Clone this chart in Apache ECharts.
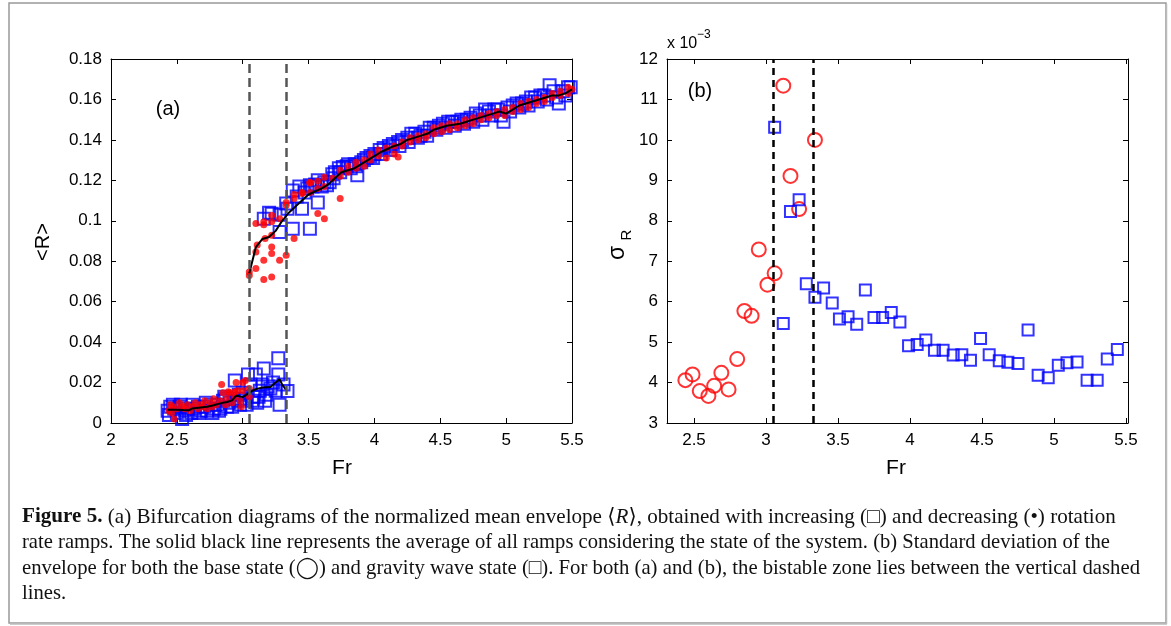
<!DOCTYPE html>
<html><head><meta charset="utf-8">
<script src="https://cdn.jsdelivr.net/npm/echarts@6/dist/echarts.min.js"></script>
<style>html,body{margin:0;padding:0;background:#fff}#c{width:1171px;height:626px}</style>
</head><body><div id="c"></div>
<script>
// ---------- Panel (a): <R> vs Fr ----------
const xTicksA = [2, 2.5, 3, 3.5, 4, 4.5, 5, 5.5];
const bistable = [3.05, 3.33];

// increasing ramps (squares), base-state branch
const blueLow = [[2.43,0.006],[2.44,0.004],[2.45,0.008],[2.47,0.009],[2.48,0.007],[2.50,0.005],[2.52,0.008],[2.53,0.009],[2.54,0.002],[2.56,0.006],[2.57,0.004],[2.58,0.007],[2.61,0.005],[2.62,0.009],[2.63,0.007],[2.66,0.008],[2.67,0.005],[2.68,0.006],[2.71,0.008],[2.72,0.010],[2.73,0.006],[2.76,0.009],[2.77,0.005],[2.78,0.007],[2.81,0.009],[2.82,0.006],[2.83,0.007],[2.85,0.011],[2.86,0.013],[2.87,0.012],[2.88,0.008],[2.90,0.010],[2.92,0.008],[2.93,0.012],[2.94,0.021],[2.96,0.011],[2.97,0.014],[2.98,0.009],[3.00,0.015],[3.02,0.012],[3.03,0.009],[3.04,0.024],[3.06,0.019],[3.07,0.011],[3.08,0.013],[3.10,0.024],[3.11,0.010],[3.12,0.013],[3.13,0.016],[3.15,0.019],[3.16,0.027],[3.17,0.011],[3.18,0.014],[3.19,0.018],[3.21,0.017],[3.23,0.020],[3.25,0.016],[3.27,0.032],[3.27,0.024],[3.28,0.009],[3.31,0.019],[3.34,0.0158]];

// decreasing ramps (dots), base-state branch
const redLow = [[3.05,0.017],[3.05,0.013],[3.02,0.021],[3.00,0.020],[3.00,0.016],[2.99,0.008],[2.98,0.011],[2.96,0.016],[2.95,0.020],[2.94,0.013],[2.94,0.0155],[2.92,0.010],[2.90,0.015],[2.89,0.0155],[2.88,0.012],[2.87,0.009],[2.85,0.015],[2.84,0.019],[2.83,0.011],[2.80,0.009],[2.78,0.012],[2.77,0.008],[2.75,0.010],[2.73,0.007],[2.71,0.011],[2.70,0.008],[2.68,0.009],[2.66,0.007],[2.64,0.010],[2.62,0.008],[2.60,0.006],[2.58,0.009],[2.56,0.007],[2.54,0.008],[2.52,0.010],[2.50,0.007],[2.48,0.002],[2.47,0.008],[2.46,0.005],[2.45,0.009],[2.44,0.006]];

// increasing ramps (squares), gravity-wave branch
const blueHigh = [[3.16,0.101],[3.20,0.104],[3.22,0.1035],[3.28,0.103],[3.28,0.0945],[3.33,0.1085],[3.34,0.106],[3.38,0.115],[3.38,0.096],[3.41,0.112],[3.43,0.117],[3.45,0.106],[3.47,0.114],[3.49,0.116],[3.51,0.1176],[3.51,0.096],[3.53,0.117],[3.55,0.118],[3.57,0.109],[3.57,0.120],[3.60,0.117],[3.62,0.119],[3.64,0.1176],[3.66,0.119],[3.68,0.123],[3.69,0.121],[3.70,0.124],[3.73,0.126],[3.74,0.124],[3.76,0.1266],[3.79,0.127],[3.80,0.128],[3.82,0.126],[3.85,0.128],[3.86,0.127],[3.87,0.1225],[3.90,0.129],[3.92,0.130],[3.94,0.131],[3.97,0.132],[3.99,0.131],[4.00,0.133],[4.04,0.135],[4.05,0.133],[4.07,0.136],[4.11,0.137],[4.12,0.135],[4.14,0.138],[4.18,0.139],[4.19,0.137],[4.21,0.140],[4.25,0.141],[4.26,0.139],[4.28,0.143],[4.31,0.143],[4.33,0.141],[4.35,0.142],[4.38,0.144],[4.40,0.142],[4.42,0.146],[4.45,0.146],[4.47,0.145],[4.49,0.147],[4.52,0.148],[4.54,0.146],[4.56,0.149],[4.59,0.149],[4.61,0.147],[4.63,0.149],[4.66,0.150],[4.68,0.148],[4.70,0.150],[4.73,0.151],[4.75,0.149],[4.77,0.153],[4.80,0.152],[4.82,0.150],[4.84,0.155],[4.87,0.154],[4.89,0.152],[4.91,0.155],[4.94,0.155],[4.96,0.152],[4.98,0.149],[5.01,0.156],[5.03,0.154],[5.05,0.157],[5.08,0.158],[5.10,0.156],[5.12,0.158],[5.15,0.159],[5.17,0.157],[5.19,0.161],[5.22,0.161],[5.24,0.159],[5.26,0.162],[5.29,0.162],[5.31,0.160],[5.33,0.167],[5.36,0.164],[5.38,0.161],[5.40,0.158],[5.43,0.164],[5.45,0.162],[5.47,0.166],[5.49,0.166]];

// decreasing ramps (dots), gravity-wave branch
const redHigh = [[3.05,0.073],[3.05,0.0747],[3.10,0.0764],[3.10,0.0845],[3.10,0.0986],[3.11,0.088],[3.16,0.071],[3.16,0.0805],[3.16,0.0995],[3.16,0.098],[3.17,0.0912],[3.22,0.0722],[3.22,0.087],[3.22,0.0838],[3.22,0.0929],[3.22,0.0995],[3.22,0.1027],[3.28,0.0805],[3.28,0.101],[3.33,0.083],[3.33,0.1077],[3.33,0.109],[3.39,0.0912],[3.39,0.111],[3.39,0.113],[3.45,0.1135],[3.45,0.114],[3.51,0.114],[3.51,0.1187],[3.51,0.119],[3.57,0.1036],[3.57,0.116],[3.57,0.1195],[3.62,0.101],[3.62,0.117],[3.62,0.1215],[3.68,0.121],[3.74,0.111],[3.74,0.122],[3.74,0.125],[3.80,0.124],[3.80,0.127],[3.86,0.126],[3.86,0.129],[3.92,0.127],[3.92,0.130],[3.97,0.130],[3.97,0.133],[4.03,0.132],[4.03,0.135],[4.09,0.131],[4.09,0.136],[4.15,0.133],[4.15,0.137],[4.18,0.1315],[4.21,0.137],[4.21,0.139],[4.27,0.139],[4.27,0.141],[4.33,0.140],[4.33,0.142],[4.39,0.141],[4.39,0.143],[4.45,0.143],[4.45,0.146],[4.51,0.144],[4.51,0.147],[4.57,0.145],[4.57,0.148],[4.63,0.146],[4.63,0.148],[4.69,0.147],[4.69,0.150],[4.75,0.148],[4.75,0.151],[4.81,0.150],[4.81,0.152],[4.87,0.151],[4.87,0.153],[4.93,0.152],[4.93,0.154],[4.99,0.152],[4.99,0.155],[5.05,0.154],[5.05,0.156],[5.11,0.155],[5.11,0.158],[5.17,0.156],[5.17,0.159],[5.23,0.158],[5.23,0.160],[5.29,0.159],[5.29,0.161],[5.35,0.161],[5.35,0.163],[5.41,0.162],[5.41,0.164],[5.47,0.163],[5.47,0.166],[5.50,0.165]];

// average of all ramps (solid black line)
const avgLow = [[2.43,0.0066],[2.50,0.0066],[2.55,0.0064],[2.59,0.0063],[2.62,0.0072],[2.68,0.0077],[2.73,0.0080],[2.78,0.0088],[2.83,0.0097],[2.88,0.0104],[2.92,0.0112],[2.95,0.0135],[2.97,0.0133],[3.00,0.0128],[3.04,0.0145],[3.08,0.0162],[3.11,0.0170],[3.15,0.0175],[3.21,0.0178],[3.25,0.0200],[3.28,0.0216],[3.30,0.0190],[3.33,0.0163]];
const avgHigh = [[3.05,0.074],[3.10,0.087],[3.15,0.091],[3.20,0.092],[3.25,0.095],[3.30,0.100],[3.35,0.104],[3.40,0.107],[3.45,0.110],[3.50,0.113],[3.55,0.1145],[3.60,0.116],[3.65,0.118],[3.70,0.121],[3.75,0.124],[3.80,0.125],[3.85,0.126],[3.90,0.128],[3.95,0.130],[4.00,0.132],[4.05,0.134],[4.10,0.1355],[4.15,0.137],[4.20,0.138],[4.25,0.140],[4.30,0.141],[4.35,0.142],[4.40,0.143],[4.45,0.145],[4.50,0.146],[4.55,0.147],[4.60,0.1475],[4.65,0.148],[4.70,0.149],[4.75,0.150],[4.80,0.151],[4.85,0.152],[4.90,0.153],[4.95,0.154],[5.00,0.153],[5.05,0.155],[5.10,0.157],[5.15,0.158],[5.20,0.159],[5.25,0.160],[5.30,0.161],[5.35,0.162],[5.40,0.162],[5.45,0.163],[5.50,0.165]];

// ---------- Panel (b): sigma_R (x 10^-3) vs Fr ----------
const xTicksB = [2.5, 3, 3.5, 4, 4.5, 5, 5.5];
const sigmaBase = [[2.44,4.06],[2.49,4.20],[2.54,3.79],[2.60,3.67],[2.64,3.92],[2.69,4.24],[2.74,3.83],[2.80,4.58],[2.85,5.77],[2.90,5.65],[2.95,7.29],[3.01,6.42],[3.06,6.70],[3.12,11.34],[3.17,9.11],[3.23,8.29],[3.34,10.0]];
const sigmaWave = [[3.06,10.31],[3.12,5.46],[3.17,8.23],[3.23,8.52],[3.28,6.44],[3.34,6.11],[3.40,6.34],[3.46,5.97],[3.51,5.57],[3.57,5.63],[3.63,5.44],[3.69,6.29],[3.75,5.61],[3.81,5.61],[3.87,5.73],[3.93,5.50],[3.99,4.91],[4.05,4.94],[4.11,5.05],[4.17,4.80],[4.23,4.80],[4.30,4.68],[4.36,4.69],[4.42,4.55],[4.49,5.09],[4.55,4.69],[4.62,4.54],[4.68,4.50],[4.75,4.47],[4.82,5.30],[4.89,4.18],[4.96,4.12],[5.03,4.43],[5.09,4.49],[5.16,4.51],[5.23,4.06],[5.30,4.06],[5.37,4.58],[5.44,4.82]];

// ---------- caption ----------
const captionLines = [
  '{b|Figure 5.} (a) Bifurcation diagrams of the normalized mean envelope \u27E8{i|R}\u27E9, obtained with increasing (\u25A1) and decreasing (\u2022) rotation',
  'rate ramps. The solid black line represents the average of all ramps considering the state of the system. (b) Standard deviation of the',
  'envelope for both the base state (\u25EF) and gravity wave state (\u25A1). For both (a) and (b), the bistable zone lies between the vertical dashed',
  'lines.'
];

const SANS = '"Liberation Sans", Arial, Helvetica, sans-serif';
const SERIF = '"Liberation Serif", "DejaVu Serif", serif';

// caption layout: uniform font size, each line condensed to the width it spans in the figure
const ctx = document.createElement('canvas').getContext('2d');
function tw(font, t) { ctx.font = font; return ctx.measureText(t).width; }
function lineWidth(t, size) {
  let w = 0;
  if (t.indexOf('{b|Figure 5.}') >= 0) { w += tw('bold ' + size + 'px ' + SERIF, 'Figure 5.'); t = t.replace('{b|Figure 5.}', ''); }
  return w + tw(size + 'px ' + SERIF, t.replace('{i|R}', 'R'));
}
const capSize = 21;
const capTargets = [1095, 1088, 1118, null];
const capScales = captionLines.map((t, i) => capTargets[i] ? capTargets[i] / lineWidth(t, capSize) : null);
const avgScale = (capScales[1] + capScales[2]) / 2;

const chart = echarts.init(document.getElementById('c'), null, { renderer: 'canvas' });

function frameAxis(extra) {
  return Object.assign({
    type: 'value',
    axisLine: { show: true, onZero: false, lineStyle: { color: '#000', width: 1 } },
    axisTick: { show: true, inside: true, length: 5, lineStyle: { color: '#000', width: 1 } },
    axisLabel: { show: true, color: '#000', fontSize: 17, fontFamily: SANS, margin: 9 },
    splitLine: { show: false }
  }, extra);
}

const grids = [
  { left: 111, top: 59, width: 461, height: 364 },
  { left: 667, top: 59, width: 461, height: 364 }
];

const option = {
  animation: false,
  backgroundColor: '#fff',
  grid: grids,
  xAxis: [
    frameAxis({ gridIndex: 0, position: 'bottom', min: 2, max: 5.5, interval: 0.5 }),
    frameAxis({ gridIndex: 0, position: 'top', min: 2, max: 5.5, interval: 0.5, axisLabel: { show: false } }),
    frameAxis({ gridIndex: 1, position: 'bottom', min: 2.3125, max: 5.514,
      axisTick: { show: true, inside: true, length: 5, lineStyle: { color: '#000' }, customValues: xTicksB },
      axisLabel: { show: true, color: '#000', fontSize: 17, fontFamily: SANS, margin: 9, customValues: xTicksB } }),
    frameAxis({ gridIndex: 1, position: 'top', min: 2.3125, max: 5.514,
      axisTick: { show: true, inside: true, length: 5, lineStyle: { color: '#000' }, customValues: xTicksB },
      axisLabel: { show: false } })
  ],
  yAxis: [
    frameAxis({ gridIndex: 0, position: 'left', min: 0, max: 0.18, interval: 0.02 }),
    frameAxis({ gridIndex: 0, position: 'right', min: 0, max: 0.18, interval: 0.02, axisLabel: { show: false } }),
    frameAxis({ gridIndex: 1, position: 'left', min: 3, max: 12, interval: 1 }),
    frameAxis({ gridIndex: 1, position: 'right', min: 3, max: 12, interval: 1, axisLabel: { show: false } })
  ],
  series: [
    { type: 'scatter', xAxisIndex: 0, yAxisIndex: 0, data: blueLow.concat(blueHigh), symbol: 'rect', symbolSize: 12,
      itemStyle: { color: 'rgba(0,0,0,0)', borderColor: '#0000ff', borderWidth: 2 }, silent: true, z: 2 },
    { type: 'scatter', xAxisIndex: 0, yAxisIndex: 0, data: redLow.concat(redHigh), symbol: 'circle', symbolSize: 7,
      itemStyle: { color: '#ff0000' }, silent: true, z: 3 },
    { type: 'line', xAxisIndex: 0, yAxisIndex: 0, data: avgLow, symbol: 'none', lineStyle: { color: '#000', width: 2 }, silent: true, z: 4 },
    { type: 'line', xAxisIndex: 0, yAxisIndex: 0, data: avgHigh, symbol: 'none', lineStyle: { color: '#000', width: 2 }, silent: true, z: 4,
      markLine: { silent: true, symbol: ['none', 'none'], label: { show: false }, animation: false,
        lineStyle: { color: '#555', width: 2.5, type: [9, 5] }, emphasis: { disabled: true },
        data: bistable.map(v => ({ xAxis: v })) } },
    { type: 'scatter', xAxisIndex: 2, yAxisIndex: 2, data: sigmaBase, symbol: 'circle', symbolSize: 14,
      itemStyle: { color: 'rgba(0,0,0,0)', borderColor: '#ff0000', borderWidth: 2 }, silent: true, z: 3 },
    { type: 'scatter', xAxisIndex: 2, yAxisIndex: 2, data: sigmaWave, symbol: 'rect', symbolSize: 11,
      itemStyle: { color: 'rgba(0,0,0,0)', borderColor: '#0000ff', borderWidth: 2 }, silent: true, z: 3,
      markLine: { silent: true, symbol: ['none', 'none'], label: { show: false }, animation: false,
        lineStyle: { color: '#000', width: 2.5, type: [7, 5] }, emphasis: { disabled: true },
        data: bistable.map(v => ({ xAxis: v })) } }
  ],
  graphic: [
    { type: 'rect', shape: { x: 9, y: 3, width: 1157, height: 620 }, style: { fill: 'none', stroke: '#999', lineWidth: 1.5 }, silent: true },
    { type: 'line', shape: { x1: 1166.5, y1: 4, x2: 1166.5, y2: 624 }, style: { stroke: '#bbb', lineWidth: 1.5 }, silent: true },
    { type: 'line', shape: { x1: 10, y1: 624, x2: 1167, y2: 624 }, style: { stroke: '#bbb', lineWidth: 1.5 }, silent: true },
    { type: 'text', x: 168, y: 109, style: { text: '(a)', fontSize: 20, fontFamily: SANS, fill: '#000', textAlign: 'center', textVerticalAlign: 'middle' } },
    { type: 'text', x: 700, y: 91, style: { text: '(b)', fontSize: 20, fontFamily: SANS, fill: '#000', textAlign: 'center', textVerticalAlign: 'middle' } },
    { type: 'text', x: 342, y: 468, style: { text: 'Fr', fontSize: 21, fontFamily: SANS, fill: '#000', textAlign: 'center', textVerticalAlign: 'middle' } },
    { type: 'text', x: 896, y: 468, style: { text: 'Fr', fontSize: 21, fontFamily: SANS, fill: '#000', textAlign: 'center', textVerticalAlign: 'middle' } },
    { type: 'text', x: 43, y: 242, rotation: Math.PI / 2, style: { text: '<R>', fontSize: 20, fontFamily: SANS, fill: '#000', textAlign: 'center', textVerticalAlign: 'middle' } },
    { type: 'text', x: 618, y: 253, rotation: Math.PI / 2, style: { text: '\u03C3', fontSize: 23, fontFamily: SANS, fill: '#000', textAlign: 'center', textVerticalAlign: 'middle' } },
    { type: 'text', x: 627, y: 235, rotation: Math.PI / 2, style: { text: 'R', fontSize: 15, fontFamily: SANS, fill: '#000', textAlign: 'center', textVerticalAlign: 'middle' } },
    { type: 'text', x: 667, y: 44, style: { text: 'x 10', fontSize: 16, fontFamily: SANS, fill: '#000', textAlign: 'left', textVerticalAlign: 'middle' } },
    { type: 'text', x: 697, y: 35, style: { text: '\u22123', fontSize: 12, fontFamily: SANS, fill: '#000', textAlign: 'left', textVerticalAlign: 'middle' } }
  ].concat(captionLines.map((t, i) => ({
    type: 'text', x: 22, y: 517 + i * 25.5, scaleX: capScales[i] || avgScale, scaleY: 1,
    style: {
      text: t, fontSize: capSize, fontFamily: SERIF, fill: '#111', textAlign: 'left', textVerticalAlign: 'middle',
      rich: {
        b: { fontWeight: 'bold', fontSize: capSize, fontFamily: SERIF, fill: '#111' },
        i: { fontStyle: 'italic', fontSize: capSize, fontFamily: SERIF, fill: '#111' }
      }
    }
  })))
};
chart.setOption(option);
</script></body></html>
